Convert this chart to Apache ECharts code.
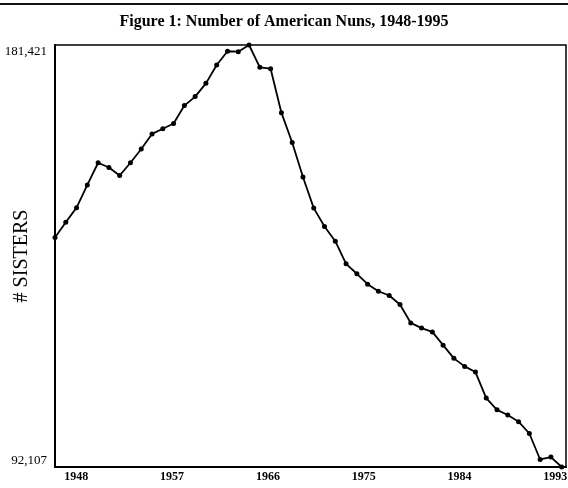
<!DOCTYPE html>
<html>
<head>
<meta charset="utf-8">
<script src="https://cdn.jsdelivr.net/npm/echarts@6/dist/echarts.min.js"></script>
<style>
  html, body { margin: 0; padding: 0; background: #fff; }
  #chart { width: 568px; height: 488px; }
</style>
</head>
<body>
<div id="chart"></div>
<script>
// years and number of sisters
var years = [];
for (var y = 1948; y <= 1995; y++) years.push(y);

var sisters = [
  140700, 143900, 147000, 151800, 156500, 155500, 153800, 156500, 159400, 162600,
  163700, 164800, 168600, 170500, 173300, 177200, 180100, 180000, 181421, 176700,
  176400, 167100, 160800, 153500, 146900, 143000, 139900, 135100, 133000, 130800,
  129300, 128400, 126500, 122600, 121500, 120700, 117900, 115100, 113400, 112200,
  106700, 104200, 103100, 101700, 99200, 93700, 94200, 92107
];

var yTicks = [92107, 181421];
var xTickLabels = [1948, 1957, 1966, 1975, 1984, 1993];

var serif = '"Liberation Serif", "DejaVu Serif", serif';

var points = years.map(function (yr, i) { return [yr, sisters[i]]; });

var chart = echarts.init(document.getElementById('chart'));
chart.setOption({
  animation: false,
  backgroundColor: '#fff',
  title: {
    text: 'Figure 1: Number of American Nuns, 1948-1995',
    left: 'center',
    top: 9,
    textStyle: { fontFamily: serif, fontSize: 16, fontWeight: 'bold', color: '#000' }
  },
  graphic: [{
    type: 'line',
    shape: { x1: 0, y1: 4, x2: 568, y2: 4 },
    style: { stroke: '#111', lineWidth: 2 }
  }],
  grid: {
    left: 55, right: 2, top: 45, bottom: 21,
    outerBoundsMode: 'none',
    containLabel: false,
    show: true, borderColor: '#000', borderWidth: 1.5
  },
  xAxis: [{
    type: 'value',
    min: 1948,
    max: 1995.4,
    axisLine: { show: false },
    axisTick: { show: false },
    axisLabel: { show: false },
    splitLine: { show: false }
  }, {
    // label axis, placed like the printed figure
    type: 'value',
    min: 1946,
    max: 1994,
    position: 'bottom',
    axisLine: { show: true, lineStyle: { color: '#000', width: 2 } },
    axisTick: { show: false },
    splitLine: { show: false },
    axisLabel: {
      customValues: xTickLabels,
      formatter: function (v) { return String(v); },
      fontFamily: serif, fontSize: 12, fontWeight: 'bold', color: '#000', margin: 4
    }
  }],
  yAxis: {
    type: 'value',
    min: 92107,
    max: 181421,
    name: '# SISTERS',
    nameLocation: 'middle',
    nameGap: 23,
    nameMoveOverlap: false,
    nameTextStyle: { fontFamily: serif, fontSize: 20, color: '#000' },
    axisLine: { show: true, lineStyle: { color: '#000', width: 2 } },
    axisTick: { show: false },
    splitLine: { show: false },
    axisLabel: {
      customValues: yTicks,
      formatter: function (v) { return v.toLocaleString('en-US'); },
      verticalAlignMinLabel: 'bottom',
      verticalAlignMaxLabel: 'top',
      fontFamily: serif, fontSize: 13, color: '#000', margin: 8
    }
  },
  series: [{
    type: 'line',
    xAxisIndex: 0,
    data: points,
    symbol: 'circle',
    symbolSize: 5,
    itemStyle: { color: '#000' },
    lineStyle: { color: '#000', width: 1.8 }
  }]
});
</script>
</body>
</html>
